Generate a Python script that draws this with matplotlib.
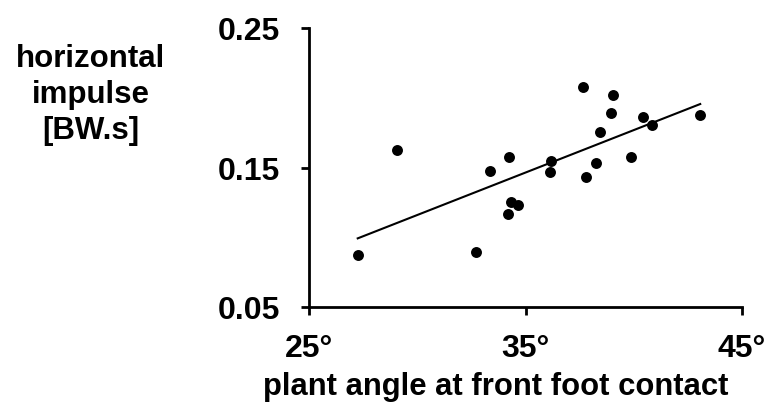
import matplotlib
matplotlib.use("Agg")
import matplotlib.pyplot as plt

# Data
plant_angle = [27.25, 29.08, 32.71, 33.36, 34.25, 34.33, 34.64, 34.21,
               37.67, 39.04, 38.93, 40.41, 40.86, 43.05, 38.46, 36.19,
               36.15, 38.26, 37.81, 39.89]
impulse = [0.0873, 0.1628, 0.0896, 0.1473, 0.1578, 0.1250, 0.1233, 0.1169,
           0.2077, 0.2020, 0.1891, 0.1860, 0.1805, 0.1876, 0.1754, 0.1549,
           0.1468, 0.1532, 0.1432, 0.1578]
trend_x = [27.25, 43.07]
trend_y = [0.0992, 0.1955]
x_ticks = [25, 35, 45]
x_tick_labels = ["25°", "35°", "45°"]
y_ticks = [0.05, 0.15, 0.25]
y_tick_labels = ["0.05", "0.15", "0.25"]

plt.rcParams['font.family'] = ['Liberation Sans', 'DejaVu Sans']

fig = plt.figure(figsize=(7.71, 4.10), dpi=100)
ax = fig.add_axes([309/771, 1 - 308/410, (742 - 309)/771, (308 - 29)/410])

ax.scatter(plant_angle, impulse, s=62, color='black', zorder=3, linewidths=0)
ax.plot(trend_x, trend_y, color='black', linewidth=1.5)

ax.set_xlim(25, 45)
ax.set_ylim(0.05, 0.25)
ax.set_xticks(x_ticks)
ax.set_xticklabels(x_tick_labels, fontsize=23, fontweight='bold')
ax.set_yticks(y_ticks)
ax.set_yticklabels(y_tick_labels, fontsize=23, fontweight='bold')

for s in ['top', 'right']:
    ax.spines[s].set_visible(False)
for s in ['left', 'bottom']:
    ax.spines[s].set_linewidth(2.0)
ax.tick_params(direction='out', length=6, width=2.0)
ax.tick_params(axis='y', pad=15)
ax.tick_params(axis='x', pad=13)

fig.text(496/771, 1 - 387/410, "plant angle at front foot contact",
         fontsize=22.3, fontweight='bold', ha='center', va='center')
fig.text(91/771, 1 - 95/410, "horizontal\nimpulse\n[BW.s]",
         fontsize=22.5, fontweight='bold', ha='center', va='center',
         linespacing=1.25)

fig.savefig("out.png", dpi=100)
